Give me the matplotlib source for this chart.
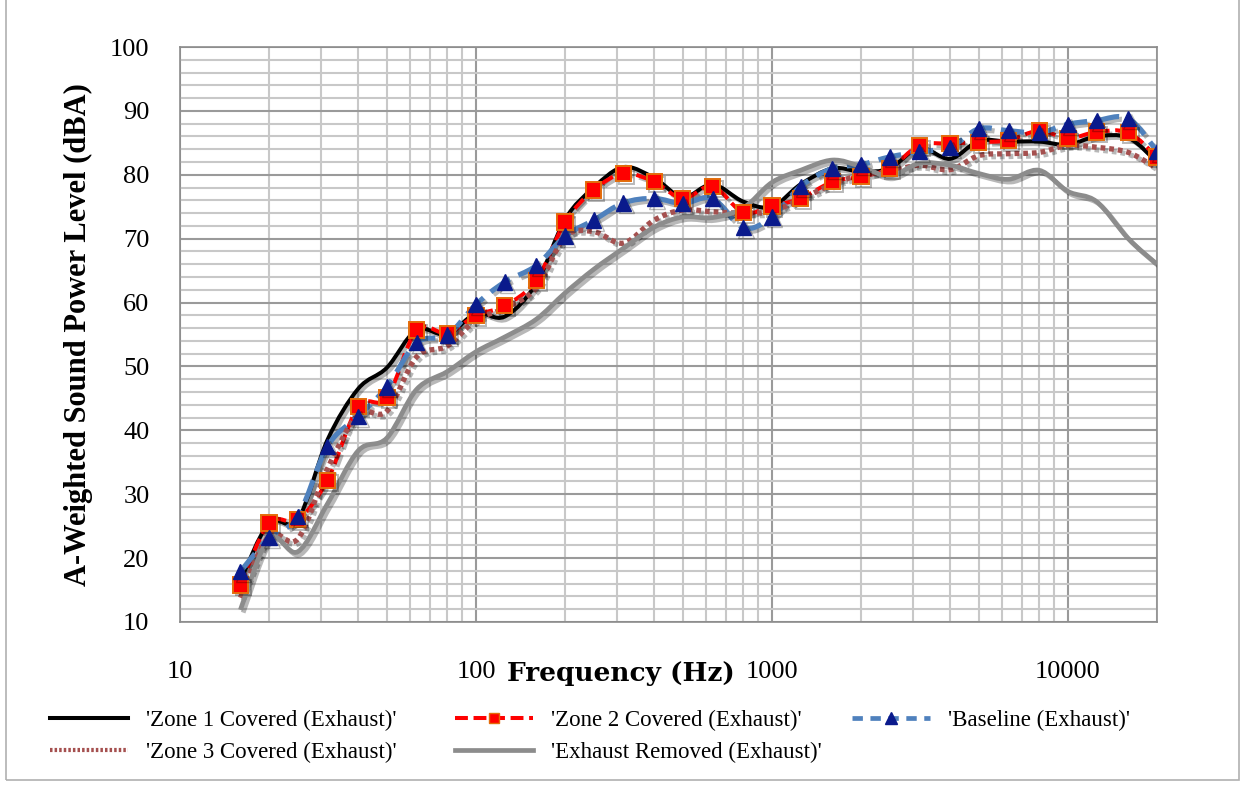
import matplotlib
matplotlib.use("Agg")
import matplotlib.pyplot as plt
import matplotlib.patheffects as pe
from matplotlib.path import Path
from matplotlib.patches import PathPatch, Rectangle
from matplotlib.lines import Line2D
from matplotlib.ticker import FixedLocator, LogLocator, NullFormatter, MultipleLocator
import numpy as np

# 1/3 octave band centre frequencies (Hz)
freq = [16, 20, 25, 31.5, 40, 50, 63, 80, 100, 125, 160, 200, 250, 315, 400, 500,
        630, 800, 1000, 1250, 1600, 2000, 2500, 3150, 4000, 5000, 6300, 8000,
        10000, 12500, 16000, 20000]

zone1 = [16.5, 25.5, 26, 38.5, 46.5, 49.8, 55.7, 55, 58.3, 57.8, 63, 73, 78, 81.2,
         79.5, 76.5, 78.5, 75.8, 75, 78.5, 81, 80.5, 81, 84.2, 82.5, 85.3, 85.2,
         85.2, 84.7, 86, 85.8, 82]
zone2 = [15.8, 25.5, 26, 32.2, 43.7, 45.1, 55.7, 55.2, 58, 59.5, 63.5, 72.6, 77.6,
         80.2, 78.9, 76.3, 78.2, 74.1, 75.1, 76.3, 78.9, 79.7, 81, 84.6, 84.9,
         85.1, 85.4, 86.9, 85.7, 86.7, 86.6, 82.8]
baseline = [17.9, 23.2, 26.5, 37.5, 42.2, 46.8, 53.7, 54.9, 59.7, 63.2, 65.8, 70.4,
            72.9, 75.6, 76.3, 75.5, 76.3, 71.7, 73.4, 78.2, 81, 81.6, 82.8, 83.6,
            84.3, 87.2, 86.9, 86.6, 87.9, 88.5, 88.8, 83.7]
zone3 = [13.8, 23.5, 23, 34, 42.5, 43, 51.5, 53.2, 57.3, 59.1, 62.3, 70.3, 71.1,
         69.3, 72.9, 74.5, 74.2, 74, 74.3, 76.2, 78.5, 80, 80.5, 81.5, 80.8, 83,
         83.3, 83.5, 84.6, 84.3, 83.5, 81]
removed = [11.9, 23.1, 21, 28.5, 36.8, 38.8, 46.4, 49.2, 52.3, 54.6, 57.4, 61.5,
           65.2, 68.5, 71.8, 73.4, 73.3, 74.8, 78.8, 80.7, 82.3, 81.3, 79.8, 81.8,
           81.5, 80.2, 79.3, 80.7, 77.4, 75.8, 70, 66]

labels = ["'Zone 1 Covered (Exhaust)'", "'Zone 2 Covered (Exhaust)'",
          "'Baseline (Exhaust)'", "'Zone 3 Covered (Exhaust)'",
          "'Exhaust Removed (Exhaust)'"]


def smooth_path(x, y):
    # Catmull-Rom style bezier through the points, in log-frequency space
    u = np.log10(np.asarray(x, float))
    v = np.asarray(y, float)
    n = len(u)
    verts = [(u[0], v[0])]
    codes = [Path.MOVETO]
    for i in range(n - 1):
        a = max(i - 1, 0)
        d = min(i + 2, n - 1)
        c1 = (u[i] + (u[i + 1] - u[a]) / 6, v[i] + (v[i + 1] - v[a]) / 6)
        c2 = (u[i + 1] - (u[d] - u[i]) / 6, v[i + 1] - (v[d] - v[i]) / 6)
        verts += [c1, c2, (u[i + 1], v[i + 1])]
        codes += [Path.CURVE4] * 3
    verts = np.array(verts)
    verts[:, 0] = 10 ** verts[:, 0]
    return Path(verts, codes)


serif = ['Liberation Serif', 'DejaVu Serif']
shadow = [pe.SimpleLineShadow(offset=(2, -2), shadow_color='k', alpha=0.28), pe.Normal()]

fig = plt.figure(figsize=(12.45, 7.87), dpi=100)
fig.patches.append(Rectangle((0.005, 0.009), 0.99, 1.2, transform=fig.transFigure,
                             fill=False, edgecolor='#b0b0b0', linewidth=1.2))
ax = fig.add_axes([180 / 1245, 1 - 622 / 787, (1157 - 180) / 1245, (622 - 47) / 787])

ax.set_xscale('log')
ax.set_xlim(10, 20000)
ax.set_ylim(10, 100)

styles = [
    dict(data=zone1, color='black', lw=2.9, ls='-'),
    dict(data=zone2, color='#ff0000', lw=2.9, ls=(0, (3.2, 1.4))),
    dict(data=baseline, color='#4f81bd', lw=3.7, ls=(0, (4.5, 1.8))),
    dict(data=zone3, color='#a5504f', lw=3.8, ls=(0, (0.9, 0.75))),
    dict(data=removed, color='#8c8c8c', lw=3.4, ls='-'),
]
for k, s in enumerate(styles):
    patch = PathPatch(smooth_path(freq, s['data']), fill=False, edgecolor=s['color'],
                      linewidth=s['lw'], linestyle=s['ls'], zorder=3 + k,
                      capstyle='butt', path_effects=shadow)
    ax.add_patch(patch)

ax.plot(freq, zone2, ls='none', marker='s', ms=11, mfc='#ff0000', mec='#e46c0a',
        mew=1.4, zorder=10, path_effects=shadow)
ax.plot(freq, baseline, ls='none', marker='^', ms=11, mfc='#0a1a8c', mec='#0a1a8c',
        zorder=11, path_effects=shadow)

# grid
ax.xaxis.set_major_locator(FixedLocator([10, 100, 1000, 10000]))
ax.xaxis.set_minor_locator(LogLocator(base=10, subs=np.arange(2, 10), numticks=20))
ax.xaxis.set_minor_formatter(NullFormatter())
ax.set_xticklabels(['10', '100', '1000', '10000'])
ax.yaxis.set_major_locator(MultipleLocator(10))
ax.yaxis.set_minor_locator(MultipleLocator(2))
ax.grid(True, which='major', color='#9a9a9a', linewidth=1.5)
ax.grid(True, which='minor', color='#c8c8c8', linewidth=1.5)
ax.set_axisbelow(True)
for sp in ax.spines.values():
    sp.set_color('#8c8c8c')
    sp.set_linewidth(1.2)

ax.tick_params(axis='both', which='both', length=0)
ax.tick_params(axis='x', pad=28, labelsize=19)
ax.tick_params(axis='y', pad=22, labelsize=19)
for t in ax.get_xticklabels() + ax.get_yticklabels():
    t.set_family(serif)

ax.set_ylabel('A-Weighted Sound Power Level (dBA)', family=serif, fontweight='bold',
              fontsize=22, labelpad=12)
fig.text(621 / 1245, 1 - 674 / 787, 'Frequency (Hz)', family=['DejaVu Serif'],
         fontweight='bold', fontsize=19, ha='center', va='center')

# legend (three columns placed individually)
h1 = Line2D([], [], color='black', lw=2.9)
h2 = Line2D([], [], color='#ff0000', lw=2.9, ls=(0, (3.2, 1.4)), marker='s', ms=7,
            mfc='#ff0000', mec='#e46c0a')
h3 = Line2D([], [], color='#4f81bd', lw=3.4, ls=(0, (2.2, 1.6)), marker='^', ms=8,
            mfc='#0a1a8c', mec='#0a1a8c')
h4 = Line2D([], [], color='#a5504f', lw=3.0, ls=(0, (0.6, 0.5)))
h5 = Line2D([], [], color='#8c8c8c', lw=3.4)
cols = [([h1, h4], [labels[0], labels[3]], 50),
        ([h2, h5], [labels[1], labels[4]], 455),
        ([h3], [labels[2]], 852)]
for hs, ls_, xpx in cols:
    fig.legend(hs, ls_, loc='upper left', bbox_to_anchor=(xpx / 1245, 1 - 710 / 787),
               frameon=False, prop={'family': serif, 'size': 16.5}, handlelength=3.4,
               handletextpad=0.8, labelspacing=0.45, borderpad=0, borderaxespad=0)

fig.savefig('out.png', dpi=100)
